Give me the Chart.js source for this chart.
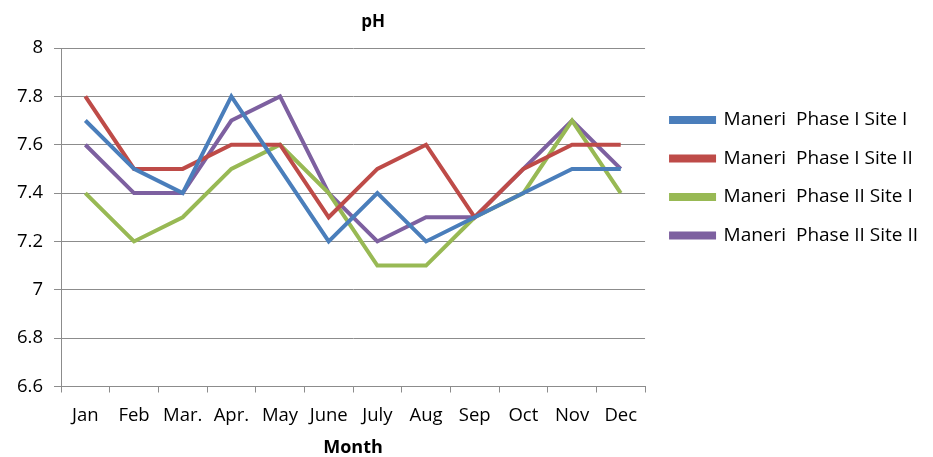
<!DOCTYPE html>
<html>
<head>
<meta charset="utf-8">
<script src="https://cdn.jsdelivr.net/npm/chart.js@4.4.1/dist/chart.umd.min.js"></script>
<style>
  html, body { margin: 0; padding: 0; background: #fff; }
  #wrap { width: 933px; height: 457px; }
</style>
</head>
<body>
<div id="wrap"><canvas id="c"></canvas></div>
<script>
// months on the x axis
const months = ['Jan', 'Feb', 'Mar.', 'Apr.', 'May', 'June', 'July', 'Aug', 'Sep', 'Oct', 'Nov', 'Dec'];

// pH readings per site
const phase1Site1 = [7.7, 7.5, 7.4, 7.8, 7.5, 7.2, 7.4, 7.2, 7.3, 7.4, 7.5, 7.5];
const phase1Site2 = [7.8, 7.5, 7.5, 7.6, 7.6, 7.3, 7.5, 7.6, 7.3, 7.5, 7.6, 7.6];
const phase2Site1 = [7.4, 7.2, 7.3, 7.5, 7.6, 7.4, 7.1, 7.1, 7.3, 7.4, 7.7, 7.4];
const phase2Site2 = [7.6, 7.4, 7.4, 7.7, 7.8, 7.4, 7.2, 7.3, 7.3, 7.5, 7.7, 7.5];

const seriesNames = ['Maneri  Phase I Site I', 'Maneri  Phase I Site II', 'Maneri  Phase II Site I', 'Maneri  Phase II Site II'];
const colors = ['#4A7EBB', '#BE4B48', '#98B954', '#7D60A0'];

const FONT = '"Open Sans", Lato, sans-serif';
const gridGray = '#8C8C8C';

function mk(i, values) {
  return {
    label: seriesNames[i],
    data: values,
    borderColor: colors[i],
    backgroundColor: colors[i],
    borderWidth: 4,
    pointRadius: 0,
    pointHoverRadius: 0,
    tension: 0,
    fill: false
  };
}

// title drawn a bit right of the plot centre, like the original
const titlePlugin = {
  id: 'phTitle',
  afterDraw(chart) {
    const ctx = chart.ctx;
    const a = chart.chartArea;
    ctx.save();
    ctx.font = 'bold 17px ' + FONT;
    ctx.fillStyle = '#000';
    ctx.textAlign = 'center';
    ctx.textBaseline = 'middle';
    ctx.fillText('pH', (a.left + a.right) / 2 + 20, 22);
    ctx.restore();
  }
};

new Chart(document.getElementById('c'), {
  type: 'line',
  data: {
    labels: months,
    datasets: [
      mk(0, phase1Site1),
      mk(1, phase1Site2),
      mk(2, phase2Site1),
      mk(3, phase2Site2)
    ]
  },
  options: {
    responsive: true,
    maintainAspectRatio: false,
    animation: false,
    layout: { padding: { left: 6, top: 48, right: 5, bottom: 0 } },
    plugins: {
      tooltip: { enabled: false },
      title: { display: false },
      legend: {
        position: 'right',
        align: 'start',
        maxWidth: 400,
        title: { display: true, text: ' ', padding: 15.5, font: { size: 10 } },
        labels: {
          boxWidth: 43,
          boxHeight: 4,
          padding: 19.5,
          color: '#000',
          font: { family: FONT, size: 19 }
        }
      }
    },
    scales: {
      x: {
        offset: true,
        grid: {
          offset: true,
          drawOnChartArea: false,
          drawTicks: true,
          tickLength: 6,
          color: gridGray
        },
        border: { color: gridGray, width: 1 },
        ticks: {
          color: '#000',
          font: { family: FONT, size: 18.5, lineHeight: 1 },
          padding: 14,
          maxRotation: 0,
          autoSkip: false
        },
        title: {
          display: true,
          text: 'Month',
          color: '#000',
          font: { family: FONT, size: 18, weight: 'bold', lineHeight: 1 },
          padding: { top: 0, bottom: 0 }
        }
      },
      y: {
        min: 6.6,
        max: 8,
        ticks: {
          stepSize: 0.2,
          color: '#000',
          font: { family: FONT, size: 18.5 },
          padding: 11,
          callback: v => String(+Number(v).toFixed(1))
        },
        grid: {
          color: gridGray,
          tickLength: 7,
          lineWidth: 1
        },
        border: { color: gridGray, width: 1 }
      },
      // empty spacer between plot and legend
      gap: {
        position: 'right',
        display: true,
        ticks: { display: false },
        grid: { display: false },
        border: { display: false },
        afterFit: s => { s.width = 6.5; }
      }
    }
  },
  plugins: [titlePlugin]
});
</script>
</body>
</html>
